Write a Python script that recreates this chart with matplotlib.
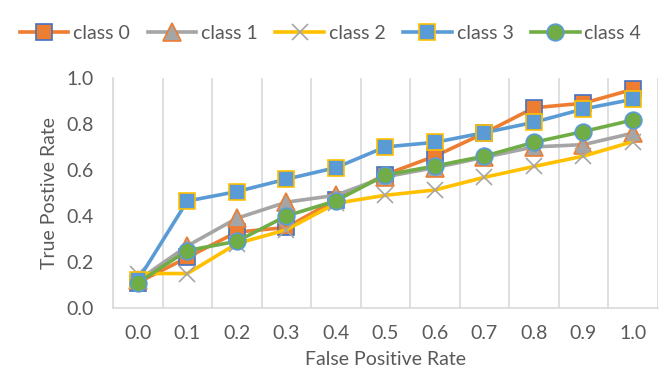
import numpy as np
import matplotlib
matplotlib.use("Agg")
import matplotlib.pyplot as plt

# categories on the x axis (false positive rate)
fpr_labels = ['0.0', '0.1', '0.2', '0.3', '0.4', '0.5', '0.6', '0.7', '0.8', '0.9', '1.0']

# true positive rate per class
class0 = [0.11, 0.22, 0.33, 0.35, 0.47, 0.58, 0.66, 0.76, 0.87, 0.89, 0.95]
class1 = [0.12, 0.27, 0.39, 0.46, 0.49, 0.57, 0.61, 0.655, 0.70, 0.71, 0.76]
class2 = [0.15, 0.15, 0.28, 0.34, 0.455, 0.49, 0.513, 0.568, 0.615, 0.66, 0.723]
class3 = [0.12, 0.465, 0.506, 0.56, 0.61, 0.70, 0.72, 0.762, 0.807, 0.865, 0.907]
class4 = [0.11, 0.25, 0.29, 0.40, 0.466, 0.578, 0.617, 0.66, 0.72, 0.767, 0.817]

series_names = ['class 0', 'class 1', 'class 2', 'class 3', 'class 4']

plt.rcParams['font.family'] = ['Lato', 'DejaVu Sans']
text_col = '#595959'
grid_col = '#D9D9D9'

fig = plt.figure(figsize=(6.61, 3.78), dpi=100)
ax = fig.add_axes([0.171, 0.185, 0.824, 0.609])

x = np.arange(len(fpr_labels))

ax.plot(x, class0, color='#ED7D31', lw=2.6, marker='s', ms=12,
        mfc='#ED7D31', mec='#4472C4', mew=1.2, label=series_names[0])
ax.plot(x, class1, color='#A5A5A5', lw=2.6, marker='^', ms=13,
        mfc='#A5A5A5', mec='#ED7D31', mew=1.2, label=series_names[1])
ax.plot(x, class2, color='#FFC000', lw=2.6, marker='x', ms=11,
        mfc='#A5A5A5', mec='#A5A5A5', mew=1.2, label=series_names[2])
ax.plot(x, class3, color='#5B9BD5', lw=2.6, marker='s', ms=12,
        mfc='#5B9BD5', mec='#FFC000', mew=1.2, label=series_names[3])
ax.plot(x, class4, color='#70AD47', lw=2.6, marker='o', ms=12,
        mfc='#70AD47', mec='#5B9BD5', mew=1.2, label=series_names[4])

ax.set_xlim(-0.5, len(fpr_labels) - 0.5)
ax.set_ylim(0, 1.0)
ax.set_xticks(x)
ax.set_xticklabels(fpr_labels)
ax.set_yticks(np.arange(0, 1.01, 0.2))
ax.set_yticklabels(['%.1f' % v for v in np.arange(0, 1.01, 0.2)])

# vertical gridlines sit between categories
ax.set_xticks(np.arange(-0.5, len(fpr_labels)), minor=True)
ax.grid(True, which='minor', axis='x', color=grid_col, lw=1.2)
ax.tick_params(which='both', length=0, colors=text_col, labelsize=14)
ax.tick_params(axis='x', pad=12)
ax.tick_params(axis='y', pad=14)

for side in ['top', 'right']:
    ax.spines[side].set_visible(False)
for side in ['left', 'bottom']:
    ax.spines[side].set_color(grid_col)
    ax.spines[side].set_linewidth(1.2)

ax.set_xlabel('False Positive Rate', fontsize=14, color=text_col, labelpad=7)
ax.set_ylabel('True Postive Rate', fontsize=14, color=text_col, labelpad=6)

leg = fig.legend(loc='center', bbox_to_anchor=(0.5, 0.912), ncol=5, frameon=False,
                 fontsize=14, handlelength=2.5, columnspacing=0.9, handletextpad=0.25,
                 labelcolor=text_col, borderaxespad=0)

fig.savefig('out.png', dpi=100)
